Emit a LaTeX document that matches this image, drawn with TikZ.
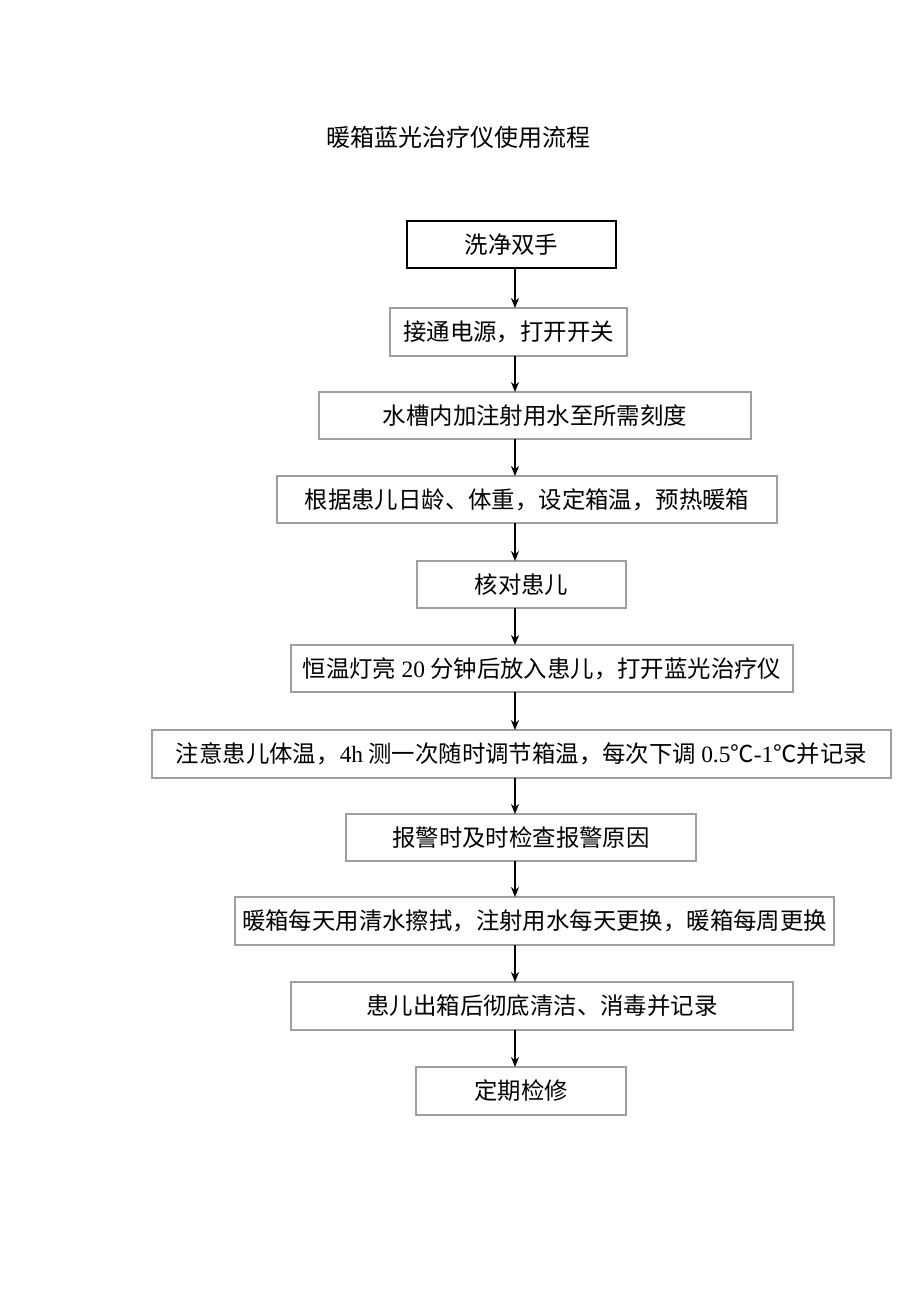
\documentclass[tikz,border=0pt]{standalone}
\usepackage{fontspec}
\setmainfont{Noto Sans CJK SC}
\newfontfamily\latfont{Liberation Serif}
\newcommand{\lat}[1]{{\latfont #1}}
\usetikzlibrary{arrows.meta}

\tikzset{
  stepbox/.style={draw=gray!75, line width=0.6pt, inner sep=0pt, outer sep=0pt,
    minimum height=23.5pt, font=\fontsize{11.7}{14}\selectfont},
  firstbox/.style={stepbox, draw=black, line width=1pt},
  arr/.style={-{Stealth[length=5pt,width=4pt]}, line width=0.6pt}
}

\begin{document}
\begin{tikzpicture}[x=0.5pt,y=-0.5pt]
\useasboundingbox (0,0) rectangle (920,1301);
\fill[white] (0,0) rectangle (920,1301);
\coordinate (ax) at (515,0);

\node (title) at (458,137) {\fontsize{12}{14}\selectfont 暖箱蓝光治疗仪使用流程};

\node[firstbox, minimum width=104.5pt] (n1) at (511.5,244.5) {洗净双手};
\node[stepbox, minimum width=118.5pt, minimum height=24pt] (n2) at (508.5,332) {接通电源，打开开关};
\node[stepbox, minimum width=216pt] (n3) at (535,415.5) {水槽内加注射用水至所需刻度};
\node[stepbox, minimum width=250pt] (n4) at (527,499.5) {根据患儿日龄、体重，设定箱温，预热暖箱};
\node[stepbox, minimum width=104.5pt] (n5) at (521.5,584.5) {核对患儿};
\node[stepbox, minimum width=251pt] (n6) at (542,668.5) {恒温灯亮 \lat{20} 分钟后放入患儿，打开蓝光治疗仪};
\node[stepbox, minimum width=369.5pt, minimum height=24pt] (n7) at (521.5,754) {注意患儿体温，\lat{4h} 测一次随时调节箱温，每次下调 \lat{0.5}℃\lat{-1}℃并记录};
\node[stepbox, minimum width=175pt] (n8) at (521,837.5) {报警时及时检查报警原因};
\node[stepbox, minimum width=299.5pt, minimum height=24pt] (n9) at (534.5,921) {暖箱每天用清水擦拭，注射用水每天更换，暖箱每周更换};
\node[stepbox, minimum width=251pt, minimum height=24pt] (n10) at (542,1006) {患儿出箱后彻底清洁、消毒并记录};
\node[stepbox, minimum width=105pt, minimum height=24pt] (n11) at (521,1091) {定期检修};

% connectors
\foreach \a/\b in {n1/n2, n2/n3, n3/n4, n4/n5, n5/n6, n6/n7, n7/n8, n8/n9, n9/n10, n10/n11}
  \draw[arr] (\a.south -| ax) -- (\b.north -| ax);
\end{tikzpicture}
\end{document}
